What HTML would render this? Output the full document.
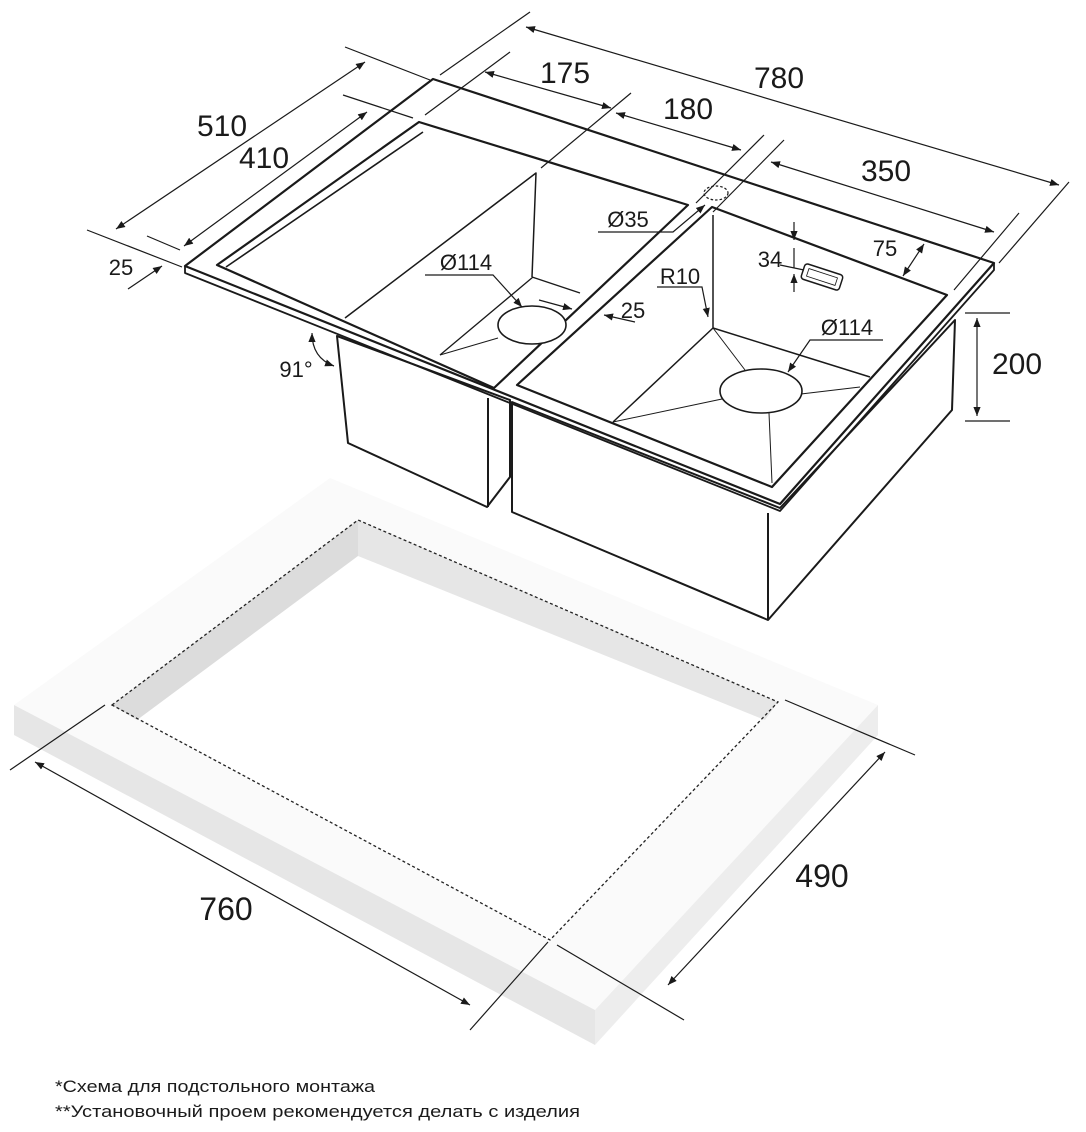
<!DOCTYPE html>
<html><head><meta charset="utf-8"><style>
html,body{margin:0;padding:0;background:#fff}
svg{display:block}
text{font-family:"Liberation Sans",sans-serif;fill:#1a1a1a}
</style></head><body>
<svg width="1086" height="1132" viewBox="0 0 1086 1132" xmlns="http://www.w3.org/2000/svg">
<defs>
<marker id="a" viewBox="0 0 10 10" refX="10" refY="5" markerWidth="9" markerHeight="9" orient="auto-start-reverse" markerUnits="userSpaceOnUse"><path d="M0,1 L10,5 L0,9 z" fill="#1a1a1a"/></marker>
</defs>

<!-- Countertop -->
<polygon points="14,705 330,478 878,705 595,1010" fill="#fafafa"/>
<polygon points="14,705 595,1010 595,1045 14,735" fill="#e6e6e6"/>
<polygon points="595,1010 878,705 878,735 595,1045" fill="#ededed"/>
<polygon points="112,705 358,520 778,702 550,940" fill="#fff"/>
<polygon points="112,705 358,520 358,556 137,720" fill="#dcdcdc"/>
<polygon points="358,520 778,702 765,720 358,556" fill="#e6e6e6"/>
<polygon points="112,705 358,520 778,702 550,940" fill="none" stroke="#222" stroke-width="1.3" stroke-dasharray="3,2.5"/>

<g stroke="#1a1a1a" stroke-width="1.2" fill="none">
<line x1="10" y1="770" x2="105" y2="705"/>
<line x1="470" y1="1030" x2="548" y2="942"/>
<line x1="35" y1="762" x2="470" y2="1005" marker-start="url(#a)" marker-end="url(#a)"/>
<line x1="785" y1="700" x2="915" y2="755"/>
<line x1="557" y1="945" x2="684" y2="1020"/>
<line x1="668" y1="985" x2="885" y2="752" marker-start="url(#a)" marker-end="url(#a)"/>
</g>
<text x="226" y="920" font-size="32" text-anchor="middle">760</text>
<text x="822" y="887" font-size="32" text-anchor="middle">490</text>

<!-- Sink boxes below deck -->
<g stroke="#1a1a1a" stroke-width="2" fill="#fff" stroke-linejoin="round">
<path d="M337,336 L348,443 L487,507 L510,477 L510,400 L337,336 z"/>
<path d="M488,398 L488,507"/>
<path d="M512,402 L512,512 L768,620 L952,410 L955,320 L780,508 z"/>
<path d="M768,513 L768,620"/>
</g>

<!-- Rim / deck -->
<g stroke="#1a1a1a" stroke-width="2.2" fill="#fff" stroke-linejoin="round">
<path d="M185,266 L433,79 L994,263 L780,504 z"/>
<path d="M185,266 L185,273 L780,511 L994,270 L994,263" fill="none" stroke-width="1.8"/>
</g>

<!-- Left bowl opening -->
<g stroke="#1a1a1a" fill="none" stroke-linejoin="round">
<path d="M217,265 L419,122 L688,205 L494,388 z" stroke-width="2.2" fill="#fff"/>
<path d="M226,267 L423,132" stroke-width="1.6"/>
<path d="M345,318 L536,173 L532,277" stroke-width="1.5"/>
<path d="M440,355 L533,277" stroke-width="1.3"/>
<path d="M532,277 L580,293" stroke-width="1.3"/>
<ellipse cx="532" cy="325" rx="34" ry="19" fill="#fff" stroke-width="1.6"/>
<path d="M440,355 L498,338" stroke-width="1"/>
<!-- Right bowl opening -->
<path d="M517,385 L712,207 L947,295 L772,487 z" stroke-width="2.2" fill="#fff"/>
<path d="M713,215 L713,328 L613,422" stroke-width="1.5"/>
<path d="M713,328 L870,377" stroke-width="1.5"/>
<path d="M713,328 L745,370 M613,422 L722,399 M801,394 L860,387 M769,413 L772,483" stroke-width="1"/>
<ellipse cx="761" cy="391" rx="41" ry="22" fill="#fff" stroke-width="1.6"/>
<!-- hole -->
<ellipse cx="716" cy="193" rx="12" ry="7" stroke-width="1.2" stroke-dasharray="2.5,2"/>
<!-- logo plate -->
<g transform="translate(822,277) rotate(18)"><rect x="-20" y="-8" width="40" height="16" rx="3" stroke-width="1.5"/><rect x="-15" y="-4" width="30" height="8" stroke-width="0.8"/></g>
</g>

<!-- Dimension lines -->
<g stroke="#1a1a1a" stroke-width="1.2" fill="none">
<!-- extension lines -->
<line x1="530" y1="12" x2="440" y2="75"/>
<line x1="510" y1="52" x2="425" y2="115"/>
<line x1="631" y1="93" x2="541" y2="168"/>
<line x1="764" y1="135" x2="696" y2="203"/>
<line x1="784" y1="140" x2="713" y2="212"/>
<line x1="1019" y1="213" x2="954" y2="290"/>
<line x1="1069" y1="182" x2="999" y2="263"/>
<line x1="345" y1="47" x2="430" y2="80"/>
<line x1="343" y1="95" x2="413" y2="118"/>
<line x1="87" y1="230" x2="182" y2="267"/>
<line x1="147" y1="236" x2="180" y2="250"/>
<!-- dims -->
<line x1="526" y1="27" x2="1059" y2="185" marker-start="url(#a)" marker-end="url(#a)"/>
<line x1="485" y1="72" x2="611" y2="108" marker-start="url(#a)" marker-end="url(#a)"/>
<line x1="616" y1="113" x2="741" y2="150" marker-start="url(#a)" marker-end="url(#a)"/>
<line x1="771" y1="162" x2="994" y2="232" marker-start="url(#a)" marker-end="url(#a)"/>
<line x1="116" y1="229" x2="365" y2="62" marker-start="url(#a)" marker-end="url(#a)"/>
<line x1="184" y1="246" x2="367" y2="112" marker-start="url(#a)" marker-end="url(#a)"/>
<line x1="128" y1="289" x2="162" y2="266" marker-end="url(#a)"/>
<!-- 200 -->
<line x1="965" y1="313" x2="1010" y2="313"/>
<line x1="965" y1="421" x2="1010" y2="421"/>
<line x1="977" y1="318" x2="977" y2="416" marker-start="url(#a)" marker-end="url(#a)"/>
<!-- 34 -->
<line x1="794" y1="222" x2="794" y2="240" marker-end="url(#a)"/>
<line x1="794" y1="292" x2="794" y2="274" marker-end="url(#a)"/>
<line x1="794" y1="248" x2="794" y2="268"/>
<line x1="780" y1="265" x2="804" y2="270"/>
<!-- 75 -->
<line x1="903" y1="276" x2="924" y2="244" marker-start="url(#a)" marker-end="url(#a)"/>
<!-- Ø35 leader -->
<path d="M598,232 L673,232 L705,205" marker-end="url(#a)"/>
<!-- Ø114 left -->
<path d="M425,275 L493,275 L522,307" marker-end="url(#a)"/>
<!-- 25 middle -->
<line x1="539" y1="300" x2="572" y2="309" marker-end="url(#a)"/>
<line x1="635" y1="322" x2="604" y2="315" marker-end="url(#a)"/>
<!-- R10 -->
<path d="M657,287 L702,287 L708,317" marker-end="url(#a)"/>
<!-- Ø114 right -->
<path d="M883,340 L810,340 L788,372" marker-end="url(#a)"/>
<!-- 91 -->
<path d="M312,333 Q312,358 334,366" marker-start="url(#a)" marker-end="url(#a)"/>
</g>

<g font-size="30">
<text x="222" y="136" text-anchor="middle">510</text>
<text x="264" y="168" text-anchor="middle">410</text>
<text x="565" y="83" text-anchor="middle">175</text>
<text x="688" y="119" text-anchor="middle">180</text>
<text x="779" y="88" text-anchor="middle">780</text>
<text x="886" y="181" text-anchor="middle">350</text>
<text x="1017" y="374" text-anchor="middle">200</text>
</g>
<g font-size="22">
<text x="121" y="275" text-anchor="middle">25</text>
<text x="628" y="227" text-anchor="middle">Ø35</text>
<text x="885" y="256" text-anchor="middle">75</text>
<text x="770" y="267" text-anchor="middle">34</text>
<text x="680" y="284" text-anchor="middle">R10</text>
<text x="466" y="270" text-anchor="middle">Ø114</text>
<text x="633" y="318" text-anchor="middle">25</text>
<text x="847" y="335" text-anchor="middle">Ø114</text>
<text x="296" y="377" text-anchor="middle">91°</text>
</g>

<text x="55" y="1092" font-size="17" textLength="320" lengthAdjust="spacingAndGlyphs">*Схема для подстольного монтажа</text>
<text x="55" y="1117" font-size="17" textLength="525" lengthAdjust="spacingAndGlyphs">**Установочный проем рекомендуется делать с изделия</text>
</svg>
</body></html>
